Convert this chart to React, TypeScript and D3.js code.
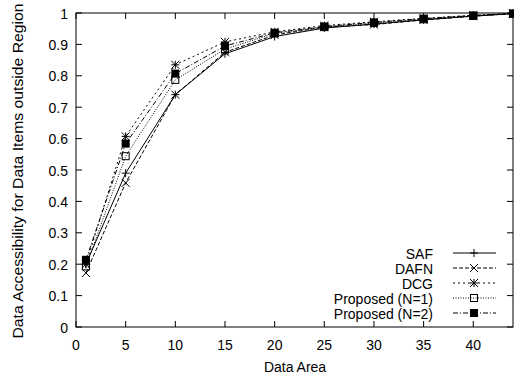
import React from "react";
import * as d3 from "d3";

const xValues = [1, 5, 10, 15, 20, 25, 30, 35, 40, 44];
const safValues = [0.2, 0.49, 0.74, 0.87, 0.925, 0.952, 0.965, 0.978, 0.99, 0.998];
const dafnValues = [0.172, 0.459, 0.74, 0.875, 0.93, 0.955, 0.963, 0.978, 0.99, 0.998];
const dcgValues = [0.2, 0.607, 0.835, 0.908, 0.94, 0.96, 0.972, 0.983, 0.993, 0.999];
const n1Values = [0.193, 0.544, 0.787, 0.885, 0.935, 0.955, 0.968, 0.98, 0.991, 0.998];
const n2Values = [0.214, 0.584, 0.807, 0.895, 0.937, 0.957, 0.97, 0.982, 0.992, 0.998];
const seriesNames = ["SAF", "DAFN", "DCG", "Proposed (N=1)", "Proposed (N=2)"];
const xTicks = [0, 5, 10, 15, 20, 25, 30, 35, 40];
const yTicks = [0, 0.1, 0.2, 0.3, 0.4, 0.5, 0.6, 0.7, 0.8, 0.9, 1];
const yTickLabels = ["0", "0.1", "0.2", "0.3", "0.4", "0.5", "0.6", "0.7", "0.8", "0.9", "1"];

const W = 514, H = 374;
const L = 76, R = 513, T = 13, B = 327;
const FONT = "'Liberation Sans', Arial, Helvetica, sans-serif";
const FS = 15.3;
const SX = 0.915;

const dashes = ["", "4,2", "2,3", "1,1.5", "5,2,1,2"];
const markers = ["plus", "cross", "star", "box", "fbox"];

function Marker({ kind, x, y }: { kind: string; x: number; y: number }) {
  const s = 4;
  const st = { stroke: "#000", strokeWidth: 1, fill: "none" };
  if (kind === "plus")
    return <path d={`M${x - s},${y}H${x + s}M${x},${y - s}V${y + s}`} {...st} />;
  if (kind === "cross")
    return <path d={`M${x - s},${y - s}L${x + s},${y + s}M${x - s},${y + s}L${x + s},${y - s}`} {...st} />;
  if (kind === "star")
    return <path d={`M${x - s},${y}H${x + s}M${x},${y - s}V${y + s}M${x - s},${y - s}L${x + s},${y + s}M${x - s},${y + s}L${x + s},${y - s}`} {...st} />;
  if (kind === "box")
    return <rect x={x - 3.5} y={y - 3.5} width={7} height={7} {...st} />;
  return <rect x={x - 4} y={y - 4} width={8} height={8} fill="#000" />;
}

function T2({ x, y, anchor, children }: { x: number; y: number; anchor: string; children: React.ReactNode }) {
  return (
    <text transform={`translate(${x},${y}) scale(${SX},1)`} fontSize={FS} textAnchor={anchor}>
      {children}
    </text>
  );
}

export default function App() {
  const x = d3.scaleLinear().domain([0, 44]).range([L, R]);
  const y = d3.scaleLinear().domain([0, 1]).range([B, T]);
  const all = [safValues, dafnValues, dcgValues, n1Values, n2Values];
  const line = d3.line<number>().x((_, i) => x(xValues[i])).y((d) => y(d));
  const legY = (i: number) => 253 + i * 15;
  return (
    <svg width={W} height={H} style={{ position: "absolute", left: 0, top: 0, background: "#fff" }} fontFamily={FONT}>
      <rect x={0} y={0} width={W} height={H} fill="#fff" />
      {xTicks.map((t) => (
        <g key={"x" + t}>
          <line x1={x(t)} x2={x(t)} y1={B} y2={B - 6} stroke="#000" />
          <line x1={x(t)} x2={x(t)} y1={T} y2={T + 6} stroke="#000" />
          <T2 x={x(t)} y={B + 22.5} anchor="middle">{t}</T2>
        </g>
      ))}
      {yTicks.map((t, i) => (
        <g key={"y" + i}>
          <line x1={L} x2={L + 6} y1={y(t)} y2={y(t)} stroke="#000" />
          <line x1={R} x2={R - 6} y1={y(t)} y2={y(t)} stroke="#000" />
          <T2 x={L - 8} y={y(t) + 5.5} anchor="end">{yTickLabels[i]}</T2>
        </g>
      ))}
      {all.map((vals, si) => (
        <g key={"s" + si}>
          <path d={line(vals) || ""} fill="none" stroke="#000" strokeWidth={1} strokeDasharray={dashes[si]} />
          {vals.map((v, i) => (
            <Marker key={i} kind={markers[si]} x={x(xValues[i])} y={y(v)} />
          ))}
        </g>
      ))}
      {seriesNames.map((n, i) => (
        <g key={"l" + i}>
          <T2 x={433} y={legY(i) + 5.5} anchor="end">{n}</T2>
          <line x1={453} x2={496} y1={legY(i)} y2={legY(i)} stroke="#000" strokeDasharray={dashes[i]} />
          <Marker kind={markers[i]} x={474} y={legY(i)} />
        </g>
      ))}
      <rect x={L} y={T} width={R - L} height={B - T} fill="none" stroke="#000" strokeWidth={1} />
      <T2 x={295} y={372} anchor="middle">Data Area</T2>
      <text transform={`translate(23,${(T + B) / 2 + 1}) rotate(-90) scale(1.03,0.93)`} fontSize={FS} textAnchor="middle">
        Data Accessibility for Data Items outside Region
      </text>
    </svg>
  );
}
